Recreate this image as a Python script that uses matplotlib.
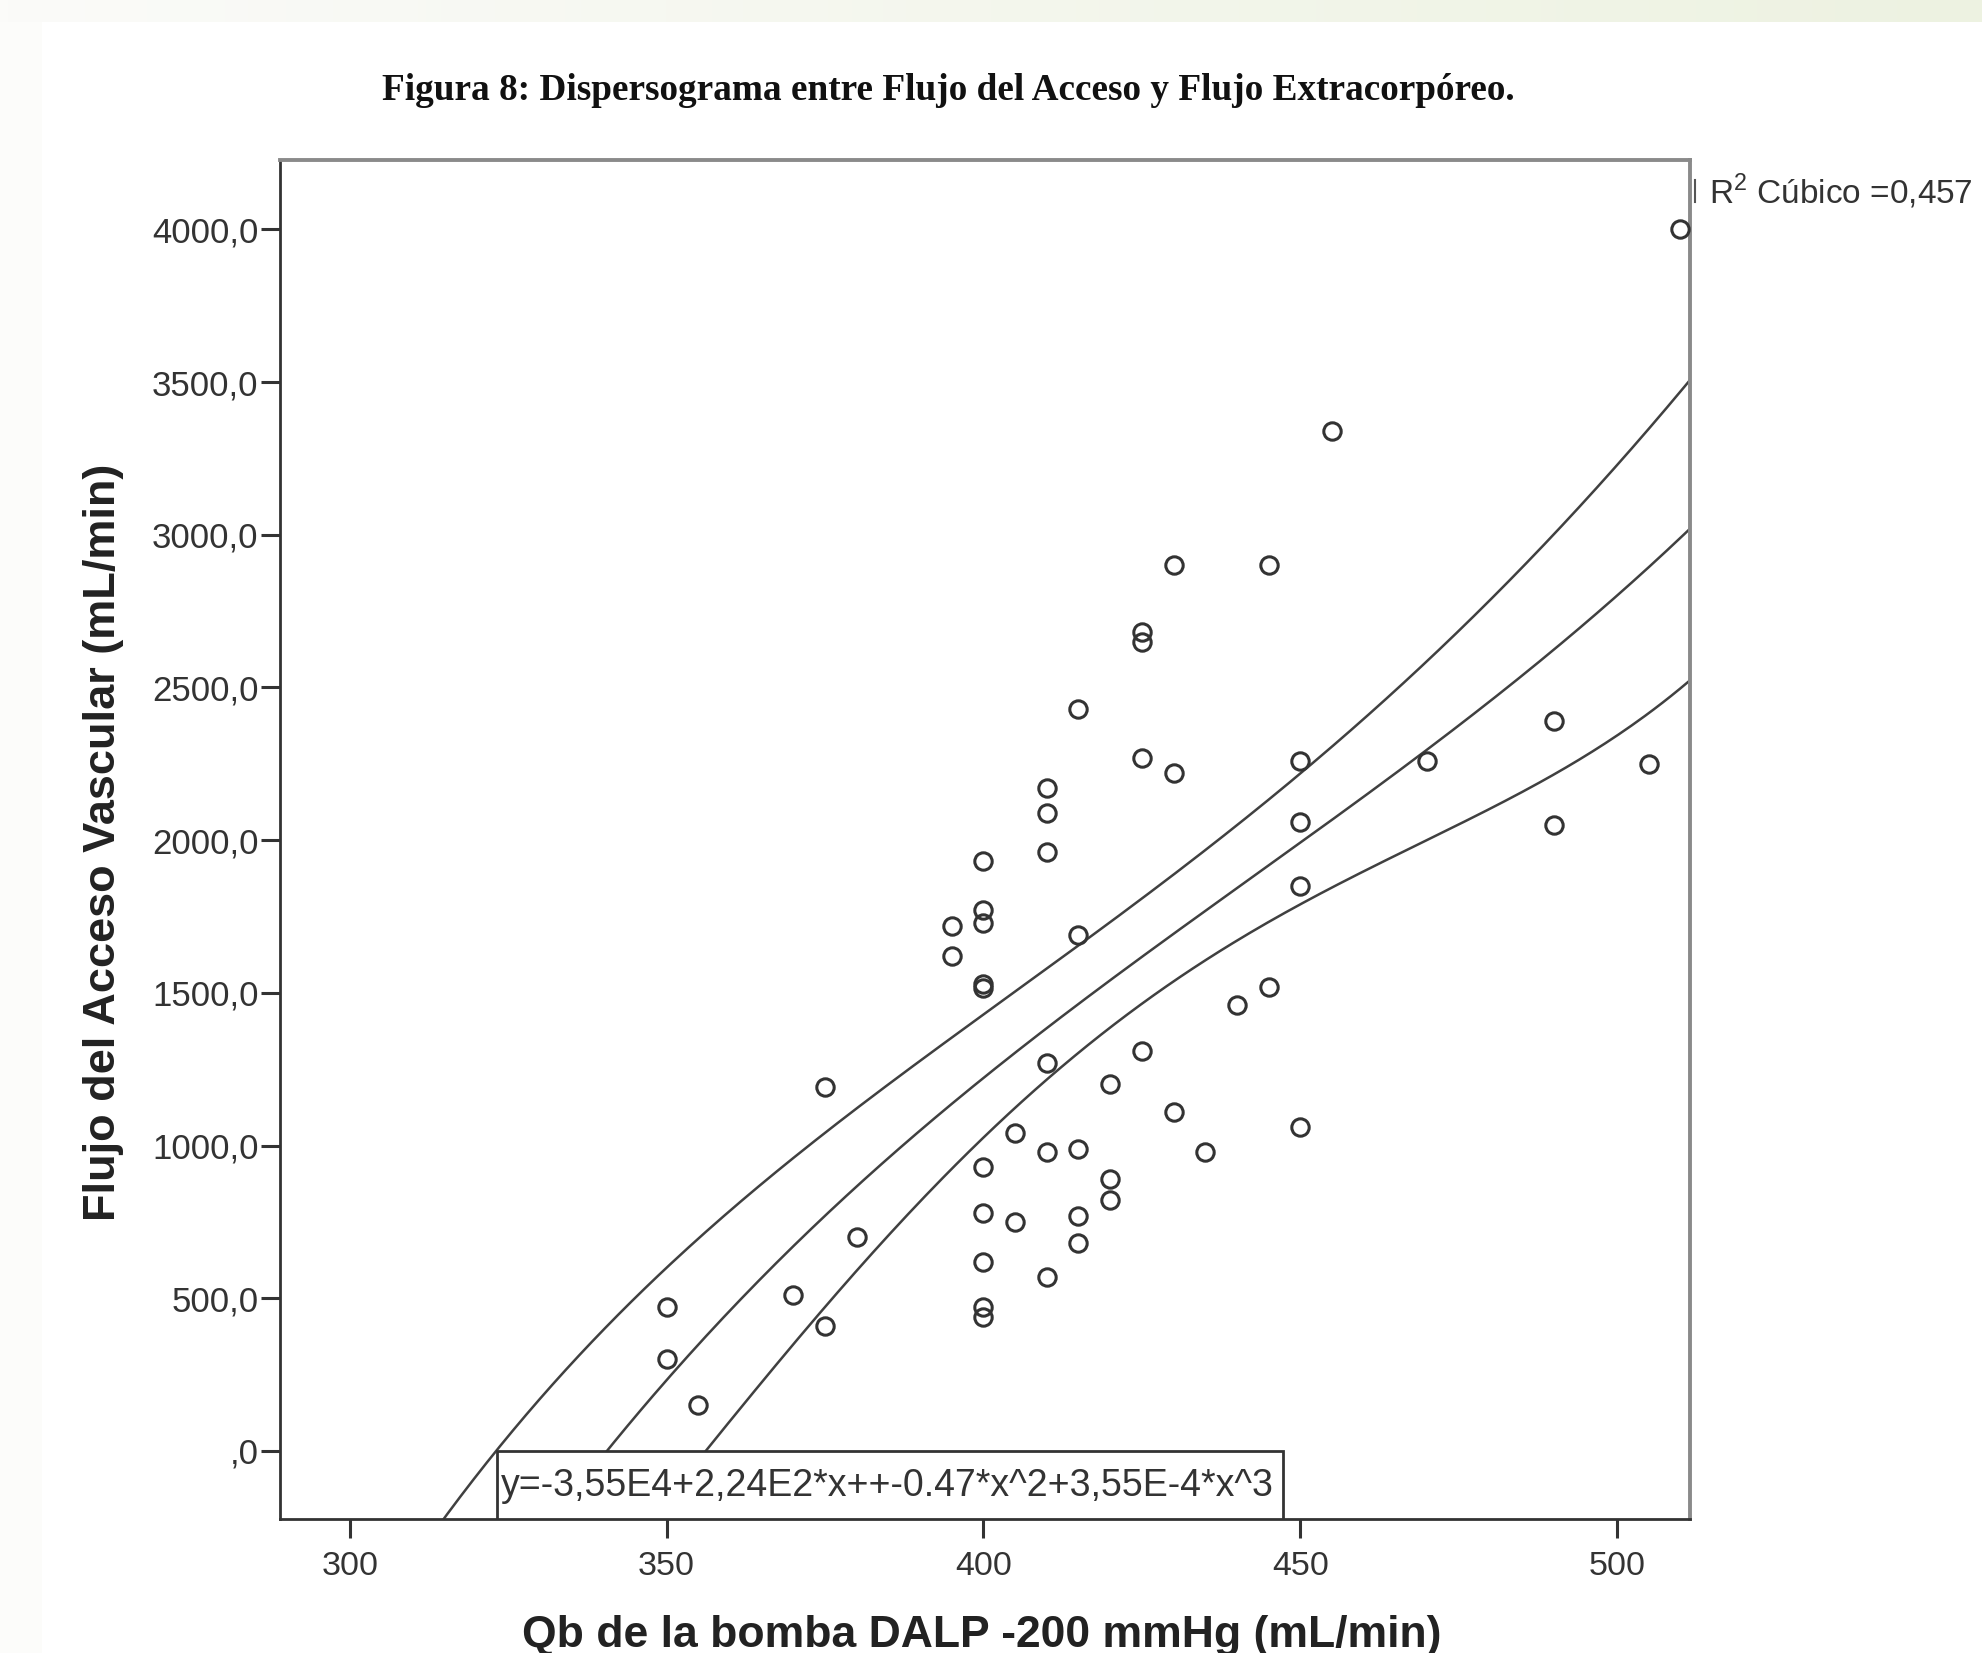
"""
Dispersograma: flujo del acceso vascular vs Qb de la bomba (DALP -200 mmHg),
with the cubic fit line and its 95% band as drawn in the original SPSS chart.
"""
import numpy as np
import matplotlib
matplotlib.use("Agg")
import matplotlib.pyplot as plt
import matplotlib.patches as patches
from matplotlib.lines import Line2D

plt.rcParams["font.family"] = ["Liberation Sans", "DejaVu Sans"]
plt.rcParams["mathtext.fontset"] = "custom"
plt.rcParams["mathtext.rm"] = "Liberation Sans"

# ---- scatter points ----
qb = [510, 455, 430, 445, 425, 425, 415, 425, 430, 450, 470, 490, 505, 490,
      450, 410, 410, 410, 400, 400, 400, 395, 395, 415, 450, 400, 400, 445,
      440, 425, 410, 375, 420, 430, 450, 405, 410, 415, 435, 400, 420, 420,
      400, 405, 415, 415, 380, 400, 410, 370, 350, 400, 400, 375, 350, 355]
flujo = [4000, 3340, 2900, 2900, 2680, 2650, 2430, 2270, 2220, 2260, 2260, 2390,
         2250, 2050, 2060, 2170, 2090, 1960, 1930, 1770, 1730, 1720, 1620, 1690,
         1850, 1530, 1515, 1520, 1460, 1310, 1270, 1190, 1200, 1110, 1060, 1040,
         980, 990, 980, 930, 890, 820, 780, 750, 770, 680, 700, 620, 570, 510,
         470, 470, 440, 410, 300, 150]

# ---- curve points (fit line and its band) ----
upper_x = [315, 323, 350, 376, 400, 415, 431, 449, 474, 491.5, 511.5]
upper_y = [-220, 0, 600, 1055, 1425, 1665, 1900, 2200, 2660, 3040, 3505]
fit_x = [341, 352, 378.5, 400, 405, 418.5, 431, 450, 462.5, 471, 491.5, 511.5]
fit_y = [0, 300, 825, 1220, 1290, 1525, 1715, 2005, 2185, 2305, 2630, 3030]
lower_x = [356, 375, 400, 406, 411.5, 418.5, 431, 450, 462.5, 491.5, 511.5]
lower_y = [0, 460, 1015, 1148, 1268, 1365, 1540, 1776, 1928, 2240, 2520]

x_ticks = [300, 350, 400, 450, 500]
y_ticks = [0, 500, 1000, 1500, 2000, 2500, 3000, 3500, 4000]
y_tick_labels = [",0", "500,0", "1000,0", "1500,0", "2000,0", "2500,0",
                 "3000,0", "3500,0", "4000,0"]

title = "Figura 8: Dispersograma entre Flujo del Acceso y Flujo Extracorpóreo."
x_label = "Qb de la bomba DALP -200 mmHg (mL/min)"
y_label = "Flujo del Acceso Vascular (mL/min)"
r2_label = r"R$^{\mathregular{2}}$ Cúbico =0,457"
equation = "y=-3,55E4+2,24E2*x++-0.47*x^2+3,55E-4*x^3"


def smooth(xp, yp, deg):
    """smooth polynomial through the read curve points"""
    xp = np.asarray(xp, float)
    c = np.polyfit((xp - 420) / 100, yp, deg)
    xs = np.linspace(305, 512, 300)
    return xs, np.polyval(c, (xs - 420) / 100)


# ---- figure ----
W, H = 1982, 1653
fig = plt.figure(figsize=(W / 100, H / 100), dpi=100)
fig.patch.set_facecolor("white")

# faint slide background strips
band = fig.add_axes([0, 1 - 22 / H, 1, 22 / H], zorder=-5)
grad = np.linspace(0, 1, 256)[None, :, None]
c0 = np.array([251, 251, 249]) / 255
c1 = np.array([237, 242, 225]) / 255
band.imshow(c0 + (c1 - c0) * grad, aspect="auto", extent=[0, 1, 0, 1])
band.set_axis_off()
fig.patches.append(patches.Rectangle((0, 0), 42 / W, 1 - 22 / H,
                                     transform=fig.transFigure,
                                     facecolor="#fcfcfa", edgecolor="none",
                                     zorder=-6))

ax = fig.add_axes([280 / W, 1 - 1519 / H, 1410 / W, 1359 / H])
ax.set_xlim(289, 511.5)
ax.set_ylim(-223, 4227)

for cx_, cy_, deg in ((upper_x, upper_y, 4), (fit_x, fit_y, 3),
                      (lower_x, lower_y, 4)):
    xs, ys = smooth(cx_, cy_, deg)
    ax.plot(xs, ys, color="#404040", lw=1.8, zorder=2)

ax.plot(qb, flujo, linestyle="none", marker="o", markersize=12.5,
        markerfacecolor="none", markeredgecolor="#333333",
        markeredgewidth=2.2, zorder=3, clip_on=False)

# equation box sitting on the bottom axis
box = patches.Rectangle((0.154, 0.0), 0.557, 0.05, transform=ax.transAxes,
                        facecolor="white", edgecolor="#333333", lw=2.0,
                        zorder=4)
ax.add_patch(box)
ax.text(0.157, 0.024, equation, transform=ax.transAxes, ha="left",
        va="center", fontsize=27, color="#333333", zorder=5)

ax.set_xticks(x_ticks)
ax.set_yticks(y_ticks)
ax.set_yticklabels(y_tick_labels)
ax.tick_params(direction="out", length=14, width=2.2, colors="#333333",
               labelsize=25, pad=1.5)
ax.tick_params(axis="x", labelsize=24.5, pad=9)

for side in ("left", "bottom"):
    ax.spines[side].set_color("#333333")
    ax.spines[side].set_linewidth(2.0)
for side in ("top", "right"):
    ax.spines[side].set_color("#8a8a8a")
    ax.spines[side].set_linewidth(2.8)

fig.text(982 / W, 1 - 1635 / H, x_label, ha="center", va="center",
         fontsize=32, fontweight="bold", color="#222222")
fig.text(104 / W, 1 - 842 / H, y_label, ha="center", va="center",
         rotation=90, fontsize=32.5, fontweight="bold", color="#222222")

fig.text(948 / W, 1 - 91 / H, title, ha="center", va="center",
         fontsize=26.8, fontweight="bold", family="Liberation Serif",
         color="#111111")

# clipped legend sample and R^2 label to the right of the frame
fig.add_artist(Line2D([1695 / W, 1695 / W], [1 - 180 / H, 1 - 202 / H],
                      color="#555555", lw=1.5))
fig.text(1709 / W, 1 - 191 / H, r2_label, ha="left", va="center",
         fontsize=24, color="#333333")

fig.savefig("out.png", dpi=100)
